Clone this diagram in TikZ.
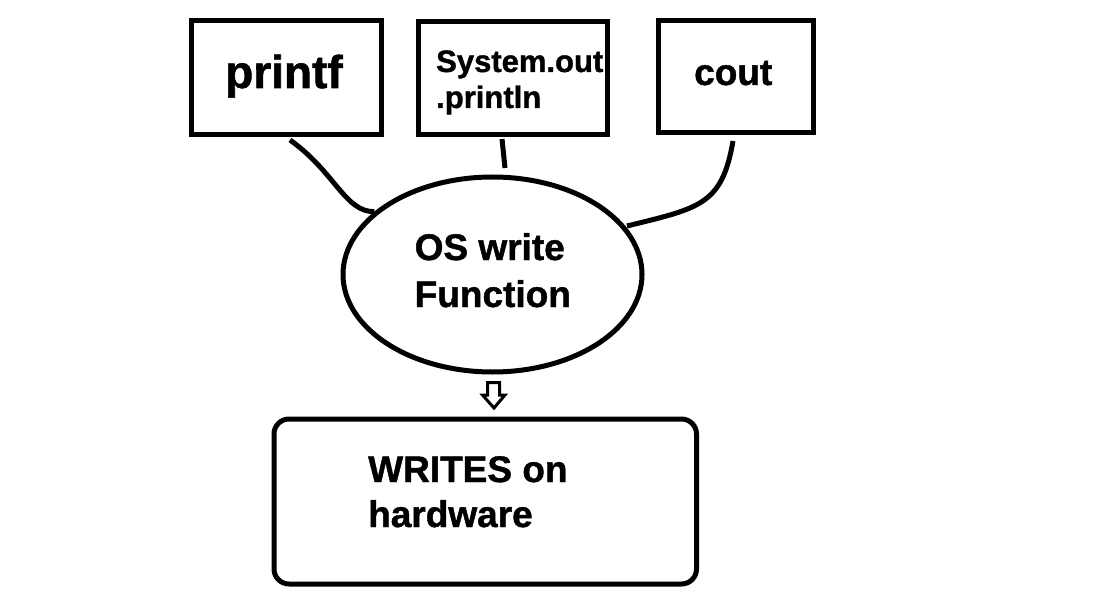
\documentclass[tikz,border=0pt]{standalone}
\usepackage{fontspec}
\setmainfont{Liberation Sans}[BoldFeatures={FakeBold=1.2}]
\usetikzlibrary{shapes.geometric}

\tikzset{
  box/.style={draw, line width=5pt, inner sep=0pt},
  txt/.style={inner sep=0pt, anchor=base west, align=left,
    font=\bfseries\fontsize{37}{47}\selectfont},
  wire/.style={line width=5pt},
}

\begin{document}
\begin{tikzpicture}[x=1pt, y=-1pt]
                \useasboundingbox (0,0) rectangle (1099,612);
                % callers
                \node [box, minimum width=190pt, minimum height=113.5pt] (printf) at (286,77.75) {};
                \node [box, minimum width=189.5pt, minimum height=113pt] (sysout) at (512.75,78.5) {};
                \node [box, minimum width=155pt, minimum height=112pt] (cout) at (735.5,77) {};
                \node [txt, font=\bfseries\fontsize{46}{50}\selectfont] (printftxt) at (225,88) {printf};
                \node [txt, font=\bfseries\fontsize{31}{36}\selectfont] (sysouttxt) at (436,108) {System.out\\.println};
                \node [txt] (couttxt) at (694,85) {cout};
                % os call
                \node [draw, ellipse, line width=5pt, inner sep=0pt,
                       minimum width=299pt, minimum height=195pt] (os) at (492.5,274.5) {};
                \node [txt] (ostxt) at (414.5,307) {OS write\\Function};
                % hardware
                \node [box, rounded corners=15pt, minimum width=422.5pt, minimum height=165pt] (hw) at (485.25,501.5) {};
                \node [txt, font=\bfseries\fontsize{37}{45}\selectfont] (hwtxt) at (368,527) {WRITES on\\hardware};
                % links
                \coordinate (p1) at (290,140);
                \coordinate (s1) at (502,139);
                \coordinate (s2) at (505,168);
                \coordinate (c1) at (733,141);
                \coordinate (c2) at (627,226);
                \draw [wire] (p1) .. controls (335,172) and (345,212) .. (os.152);
                \draw [wire] (s1) -- (s2);
                \draw [wire] (c1) .. controls (722,205) and (700,208) .. (c2);
                % down arrow
                \draw [line width=3pt, line join=miter] (487.5,382.5) -- (499.5,382.5) -- (499.5,395)
                      -- (505,395) -- (494,408) -- (482.5,395) -- (487.5,395) -- cycle;
            \end{tikzpicture}
\end{document}
